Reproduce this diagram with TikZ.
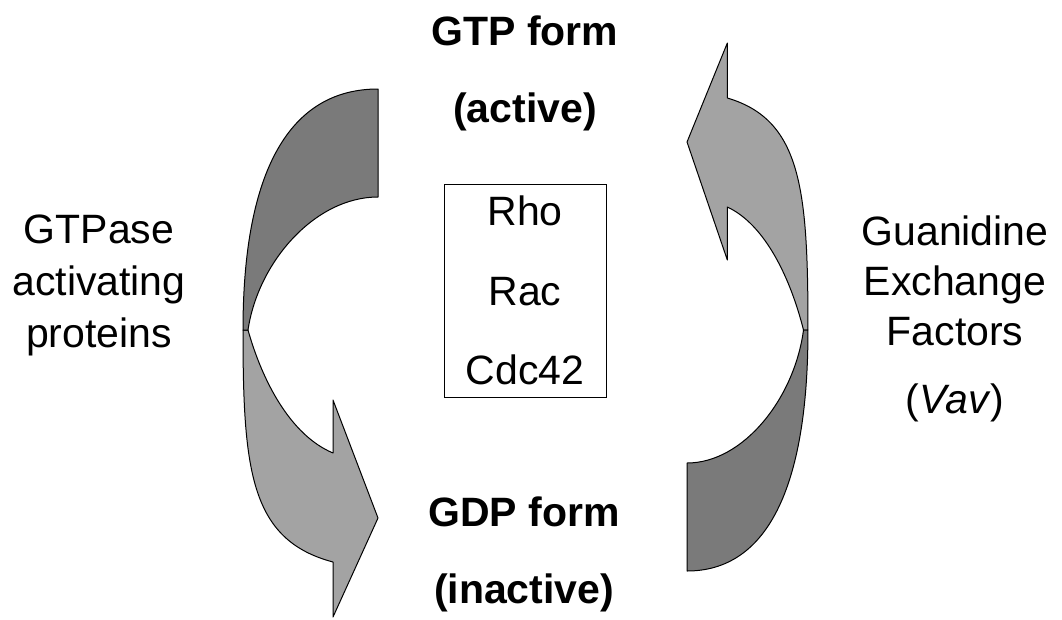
\documentclass[tikz,border=0pt]{standalone}
\usepackage{fontspec}
\setmainfont{Liberation Sans}

\definecolor{bandDark}{gray}{0.48}
\definecolor{bandLight}{gray}{0.64}

\tikzset{
    band/.style={draw=black, line width=1pt, line join=round},
    sidetext/.style={align=center, anchor=base, font=\fontsize{41}{52}\selectfont},
    formtext/.style={align=center, anchor=base, font=\bfseries\fontsize{41}{77}\selectfont},
    bentarrow/.pic={
        % head band
        \filldraw[band, fill=bandLight] (243,330) .. controls (243,470) and (250,540) .. (333,562)
            -- (333,617) -- (378,518) -- (333,400) -- (333,453)
            .. controls (290,435) and (262,380) .. (248,330) -- cycle;
        % tail band
        \filldraw[band, fill=bandDark] (378,89) -- (378,197)
            .. controls (315,197) and (258,262) .. (248,330) -- (243,330)
            .. controls (243,170) and (290,89) .. (378,89) -- cycle;
    }
}

\begin{document}
\begin{tikzpicture}[x=1pt, y=-1pt]
    \useasboundingbox (0,0) rectangle (1062,619);

    \pic {bentarrow};
    \begin{scope}[shift={(1025.7,660)}, xscale=-0.896, yscale=-1]
        \pic[transform shape] {bentarrow};
    \end{scope}

    % anchors sit on the last line
    \node[formtext] (gtp) at (525,122) {GTP form\\(active)};
    \node[formtext] (gdp) at (524,603) {GDP form\\(inactive)};

    \node[draw, line width=0.8pt, minimum width=162pt, minimum height=213pt,
          align=center, font=\fontsize{41}{79.5}\selectfont] (family) at (525,290.5)
        {Rho\\Rac\\Cdc42};

    \node[sidetext] (gap) at (99,347) {GTPase\\activating\\proteins};
    \node[sidetext, font=\fontsize{41}{50}\selectfont] (gef) at (955,413)
        {Guanidine\\Exchange\\Factors\\[18pt](\textit{Vav})};
\end{tikzpicture}
\end{document}
